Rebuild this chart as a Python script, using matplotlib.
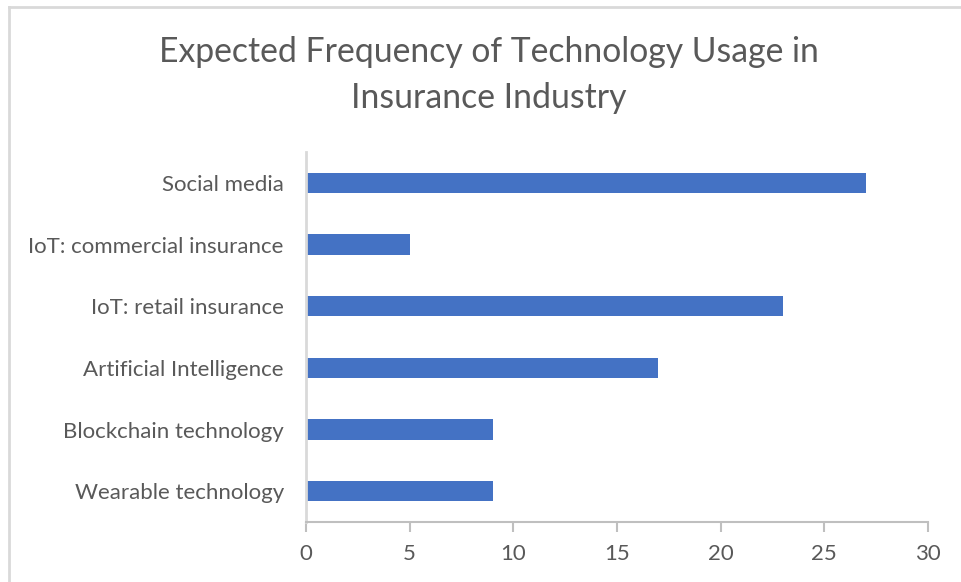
import matplotlib
matplotlib.use("Agg")
import matplotlib.pyplot as plt
from matplotlib.lines import Line2D

# technology categories, bottom to top as drawn
categories = [
    "Wearable technology",
    "Blockchain technology",
    "Artificial Intelligence",
    "IoT: retail insurance",
    "IoT: commercial insurance",
    "Social media",
]
frequency = [9, 9, 17, 23, 5, 27]
x_ticks = [0, 5, 10, 15, 20, 25, 30]

text_grey = "#595959"
axis_grey = "#bfbfbf"
bar_blue = "#4472C4"

plt.rcParams["font.family"] = ["Lato", "DejaVu Sans"]

W, H = 962, 582
fig = plt.figure(figsize=(W / 100, H / 100), dpi=100)
fig.patch.set_facecolor("white")

# chart frame (top and left edges only show)
fig.add_artist(Line2D([8.5 / W, 1.0], [1 - 6.5 / H, 1 - 6.5 / H],
                      transform=fig.transFigure, color="#d9d9d9", lw=2))
fig.add_artist(Line2D([8.5 / W, 8.5 / W], [0.0, 1 - 6.5 / H],
                      transform=fig.transFigure, color="#d9d9d9", lw=2))

ax = fig.add_axes([306 / W, 1 - 522 / H, (928 - 306) / W, (522 - 152) / H])
ax.barh(range(len(categories)), frequency, height=0.33, color=bar_blue)

ax.set_xlim(0, 30)
ax.set_ylim(-0.5, len(categories) - 0.5)
ax.set_xticks(x_ticks)
ax.set_yticks(range(len(categories)))
ax.set_yticklabels(categories)

for s in ["top", "right"]:
    ax.spines[s].set_visible(False)
ax.spines["left"].set_color("#d9d9d9")
ax.spines["left"].set_linewidth(2)
ax.spines["bottom"].set_color(axis_grey)
ax.spines["bottom"].set_linewidth(1.5)

ax.tick_params(axis="x", length=7, width=1.5, color=axis_grey,
               labelcolor=text_grey, labelsize=16, pad=9)
ax.tick_params(axis="y", length=0, labelcolor=text_grey, labelsize=16, pad=16)

fig.text(489 / W, 1 - 75 / H,
         "Expected Frequency of Technology Usage in\nInsurance Industry",
         ha="center", va="center", fontsize=24.3, color=text_grey,
         linespacing=1.5)

fig.savefig("out.png", dpi=100)
